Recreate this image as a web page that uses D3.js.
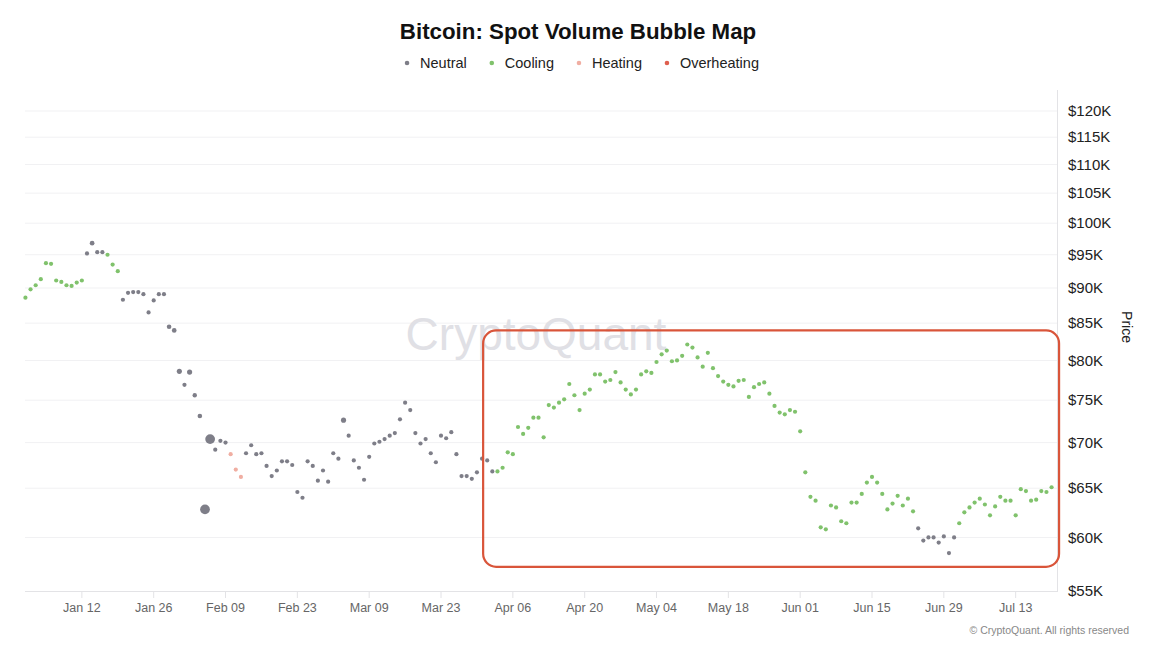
<!DOCTYPE html>
<html><head><meta charset="utf-8">
<script src="https://cdn.jsdelivr.net/npm/d3@7"></script>
<style>
body{margin:0;background:#fff;}
svg{display:block;font-family:"Liberation Sans",Arial,sans-serif;}
</style>
</head><body><svg id="c" width="1154" height="648"></svg>
<script>
// ---------- data ----------
const firstDay = "2026-01-01"; // daily points from this date
const prices = [
 88600,89800,90400,91300,93700,93600,91100,90900,90400,90300,
 90800,91100,95200,96800,95400,95400,95000,93500,92500,88300,
 89300,89400,89400,89100,86500,88200,89100,89100,84500,84000,
 78600,76900,78500,75600,73100,62800,70400,69200,70200,70000,
 68700,67000,66200,68800,69700,68700,68800,67400,66300,66900,
 67900,67900,67500,64600,64000,67900,67400,65800,66900,65700,
 68800,68200,72600,70800,68000,67200,65900,68400,69900,70100,
 70400,70800,71100,72700,74700,73800,71100,69900,70400,68800,
 67800,70800,70500,71200,68700,66300,66300,66000,66700,68200,
 68000,66800,66800,67200,68900,68700,71800,71000,71700,72900,
 72900,70600,74400,74100,74700,75100,77000,75600,73800,75800,
 76300,78200,78200,77300,77500,78500,77200,76300,75700,76300,
 78200,78600,78400,79800,80800,81300,79900,80000,80600,82100,
 81700,80400,79200,81000,79000,78000,77300,76900,76700,77400,
 77500,75400,76600,77000,77200,75800,74300,73500,73300,73800,
 73600,71300,66700,64100,63700,61000,60800,63200,63000,61600,
 61400,63500,63500,64400,65600,66200,65600,64400,62800,63400,
 64200,63200,63900,62600,60900,59700,60000,60000,59500,60100,
 58500,60000,61400,62500,63000,63500,63900,63300,62200,63100,
 64100,63700,63700,62200,64900,64700,63700,63800,64700,64600,
 65100
];
// N = Neutral, C = Cooling, H = Heating, O = Overheating
const status = [
 "C","C","C","C","C","C","C","C","C","C",
 "C","C","N","N","N","N","C","C","C","N",
 "N","N","N","N","N","N","N","N","N","N",
 "N","N","N","N","N","N","N","N","N","N",
 "H","H","H","N","N","N","N","N","N","N",
 "N","N","N","N","N","N","N","N","N","N",
 "N","N","N","N","N","N","N","N","N","N",
 "N","N","N","N","N","N","N","N","N","N",
 "N","N","N","N","N","N","N","N","N","N",
 "N","N","C","C","C","C","C","C","C","C",
 "C","C","C","C","C","C","C","C","C","C",
 "C","C","C","C","C","C","C","C","C","C",
 "C","C","C","C","C","C","C","C","C","C",
 "C","C","C","C","C","C","C","C","C","C",
 "C","C","C","C","C","C","C","C","C","C",
 "C","C","C","C","C","C","C","C","C","C",
 "C","C","C","C","C","C","C","C","C","C",
 "C","C","C","C","N","N","N","N","N","N",
 "N","N","C","C","C","C","C","C","C","C",
 "C","C","C","C","C","C","C","C","C","C",
 "C"
];
// relative spot volume (bubble size)
const volume = [
 1,1,1,1,1,1,1,1,1,1,
 1,1,1,1.25,1,1,1,1,1,1,
 1,1,1,1,1,1,1,1,1.2,1.25,
 1.5,1,1.5,1.1,1.2,5.4,5.4,1,1,1,
 1,1,1,1,1,1,1,1,1,1,
 1,1,1,1,1,1,1,1,1,1,
 1,1,1.5,1,1,1,1,1,1,1,
 1,1,1,1,1,1,1,1,1,1,
 1,1,1,1,1,1,1,1,1,1,
 1,1,1,1,1,1,1,1,1,1,
 1,1,1,1,1,1,1,1,1,1,
 1,1,1,1,1,1,1,1,1,1,
 1,1,1,1,1,1,1,1,1,1,
 1,1,1,1,1,1,1,1,1,1,
 1,1,1,1,1,1,1,1,1,1,
 1,1,1,1,1,1,1,1,1,1,
 1,1,1,1,1,1,1,1,1,1,
 1,1,1,1,1,1,1,1,1,1,
 1,1,1,1,1,1,1,1,1,1,
 1,1,1,1,1,1,1,1,1,1,
 1
];
const categories = ["Neutral","Cooling","Heating","Overheating"];
const categoryCodes = ["N","C","H","O"];
const categoryColors = ["#7e7e88","#80c26c","#f0aea2","#df5f4f"];
const yTickValues = [55000,60000,65000,70000,75000,80000,85000,90000,95000,100000,105000,110000,115000,120000];
const xTickDates = ["2026-01-12","2026-01-26","2026-02-09","2026-02-23","2026-03-09","2026-03-23","2026-04-06","2026-04-20","2026-05-04","2026-05-18","2026-06-01","2026-06-15","2026-06-29","2026-07-13"];
const xTickLabels = ["Jan 12","Jan 26","Feb 09","Feb 23","Mar 09","Mar 23","Apr 06","Apr 20","May 04","May 18","Jun 01","Jun 15","Jun 29","Jul 13"];
// highlight box (annotation)
const highlightDates = ["2026-03-31T05:00:00Z","2026-07-21T11:00:00Z"];
const highlightPrices = [84000, 57200];

// ---------- drawing ----------
const svg = d3.select("#c");
const plotL = 22, plotR = 1058, plotT = 90, plotB = 591;

const x = d3.scaleUtc()
  .domain([new Date("2025-12-31T08:00:00Z"), new Date("2026-07-21T06:00:00Z")])
  .range([plotL, plotR]);
const y = d3.scaleLog().domain([55000, 120000]).range([591, 111]);
const color = d3.scaleOrdinal().domain(categoryCodes).range(categoryColors);
const r = d3.scaleSqrt().domain([0, 1]).range([0, 2.1]);

const t0 = new Date(firstDay + "T00:00:00Z").getTime();
const data = prices.map((p, i) => ({
  date: new Date(t0 + i * 86400000), price: p, status: status[i], vol: volume[i]
}));

// gridlines
svg.append("g").selectAll("line").data(yTickValues.slice(1)).join("line")
  .attr("x1", 25).attr("x2", plotR).attr("y1", d => y(d)).attr("y2", d => y(d))
  .attr("stroke", "#f1f1f3").attr("stroke-width", 1);

// watermark
svg.append("text").attr("x", 536).attr("y", 350).attr("text-anchor", "middle")
  .attr("font-size", 46).attr("font-weight", 400).attr("fill", "#e0e0e5")
  .text("CryptoQuant");

// x axis line
svg.append("line").attr("x1", 25).attr("x2", plotR).attr("y1", plotB + 0.5).attr("y2", plotB + 0.5)
  .attr("stroke", "#e3e3e6");
// y axis line
svg.append("line").attr("x1", plotR - 0.5).attr("x2", plotR - 0.5).attr("y1", plotT).attr("y2", plotB)
  .attr("stroke", "#e3e3e6");

// x ticks
const xt = svg.append("g").selectAll("g").data(xTickDates).join("g")
  .attr("transform", d => `translate(${x(new Date(d + "T00:00:00Z"))},0)`);
xt.append("line").attr("y1", plotB + 1).attr("y2", plotB + 7).attr("stroke", "#e3e3e6");
xt.append("text").attr("y", 612).attr("text-anchor", "middle").attr("font-size", 12.5)
  .attr("fill", "#666").text((d, i) => xTickLabels[i]);

// y ticks
svg.append("g").selectAll("text").data(yTickValues).join("text")
  .attr("x", 1068).attr("y", d => y(d)).attr("dy", "0.35em")
  .attr("font-size", 15).attr("fill", "#222")
  .text(d => "$" + d3.format("d")(d / 1000) + "K");

// y axis title
svg.append("text").attr("transform", "translate(1122,327) rotate(90)")
  .attr("text-anchor", "middle").attr("font-size", 14).attr("fill", "#222").text("Price");

// bubbles
svg.append("g").selectAll("circle").data(data).join("circle")
  .attr("cx", d => x(d.date)).attr("cy", d => y(d.price))
  .attr("r", d => r(d.vol)).attr("fill", d => color(d.status));

// highlight box
const hx0 = x(new Date(highlightDates[0])), hx1 = x(new Date(highlightDates[1]));
const hy0 = y(highlightPrices[0]), hy1 = y(highlightPrices[1]);
svg.append("rect").attr("x", hx0).attr("y", hy0).attr("width", hx1 - hx0).attr("height", hy1 - hy0)
  .attr("rx", 13).attr("fill", "none").attr("stroke", "#d9553a").attr("stroke-width", 2.2);

// title
svg.append("text").attr("x", 578).attr("y", 39).attr("text-anchor", "middle")
  .attr("font-size", 22.3).attr("font-weight", 700).attr("fill", "#111")
  .text("Bitcoin: Spot Volume Bubble Map");

// legend
const lg = svg.append("g");
let lx = 0;
categories.forEach((c, i) => {
  const g = lg.append("g");
  g.append("circle").attr("cx", lx).attr("cy", 63).attr("r", 2.3).attr("fill", categoryColors[i]);
  const t = g.append("text").attr("x", lx + 13).attr("y", 63).attr("dy", "0.35em")
    .attr("font-size", 14.5).attr("fill", "#222").text(c);
  lx += 13 + t.node().getComputedTextLength() + 25;
});
const lw = lx - 25;
lg.attr("transform", `translate(${578 - lw / 2 + 5},0)`);

// copyright
svg.append("text").attr("x", 1129).attr("y", 634).attr("text-anchor", "end")
  .attr("font-size", 10.5).attr("fill", "#888").text("© CryptoQuant. All rights reserved");
</script>
</body></html>
